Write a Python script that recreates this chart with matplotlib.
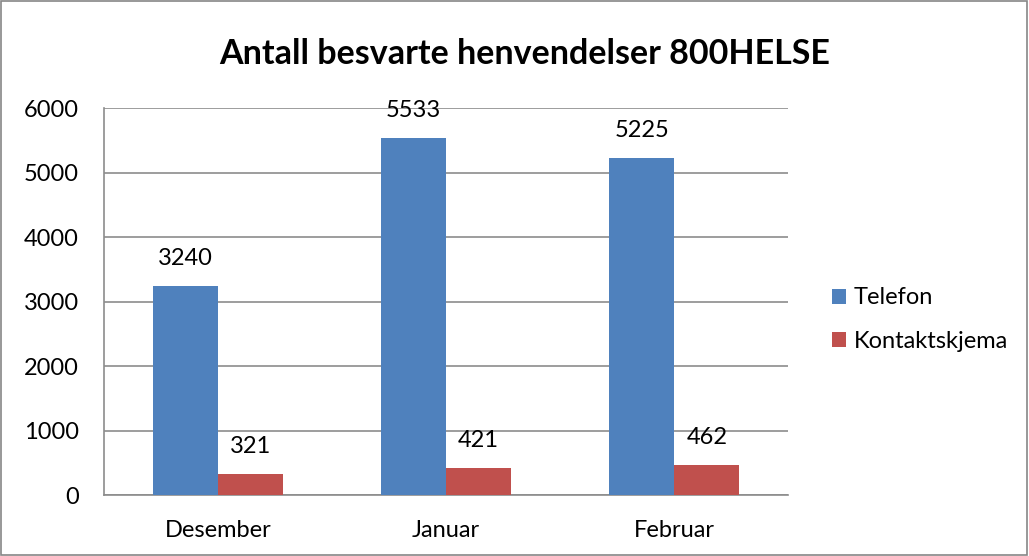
import numpy as np
import matplotlib.pyplot as plt
from matplotlib.patches import Rectangle

plt.rcParams['font.family'] = ['Lato', 'DejaVu Sans']

# data
months = ['Desember', 'Januar', 'Februar']
telefon = [3240, 5533, 5225]
kontakt = [321, 421, 462]
series_names = ['Telefon', 'Kontaktskjema']

blue = '#4F81BD'
red = '#C0504D'
grid_col = '#8C8C8C'

fig = plt.figure(figsize=(10.29, 5.56), dpi=100)
ax = fig.add_axes([0.101, 0.1097, 0.665, 0.696])

x = np.arange(len(months))
w = 1 / 3.5

b1 = ax.bar(x - w / 2, telefon, width=w, color=blue, label=series_names[0], zorder=3)
b2 = ax.bar(x + w / 2, kontakt, width=w, color=red, label=series_names[1], zorder=3)

# verdier over søylene
for bars in (b1, b2):
    for rect in bars:
        h = rect.get_height()
        ax.annotate('%d' % h, (rect.get_x() + rect.get_width() / 2, h),
                    xytext=(0, 20), textcoords='offset points',
                    ha='center', va='center', fontsize=17)

ax.set_xlim(-0.5, 2.5)
ax.set_ylim(0, 6000)
ax.set_yticks(range(0, 6001, 1000))
ax.set_xticks(x)
ax.set_xticklabels(months)
ax.tick_params(axis='both', length=0, labelsize=17)
ax.tick_params(axis='x', pad=18)
ax.tick_params(axis='y', pad=18)
ax.grid(axis='y', color=grid_col, linewidth=1.2, zorder=0)
for s in ['top', 'right']:
    ax.spines[s].set_visible(False)
for s in ['left', 'bottom']:
    ax.spines[s].set_color(grid_col)
    ax.spines[s].set_linewidth(1.2)

fig.text(0.510, 0.903, 'Antall besvarte henvendelser 800HELSE',
         ha='center', va='center', fontsize=24.5, fontweight='bold')

leg = fig.legend(handles=[b1, b2], loc='center left',
                 bbox_to_anchor=(0.799, 0.425), frameon=False,
                 fontsize=17, handlelength=0.6, handleheight=0.6,
                 handletextpad=0.35, labelspacing=0.95, borderaxespad=0)

# ramme rundt figuren
fig.patches.append(Rectangle((0.001, 0.001), 0.997, 0.997, transform=fig.transFigure,
                             fill=False, edgecolor='#868686', linewidth=1.2))

fig.savefig('out.png', dpi=100)
